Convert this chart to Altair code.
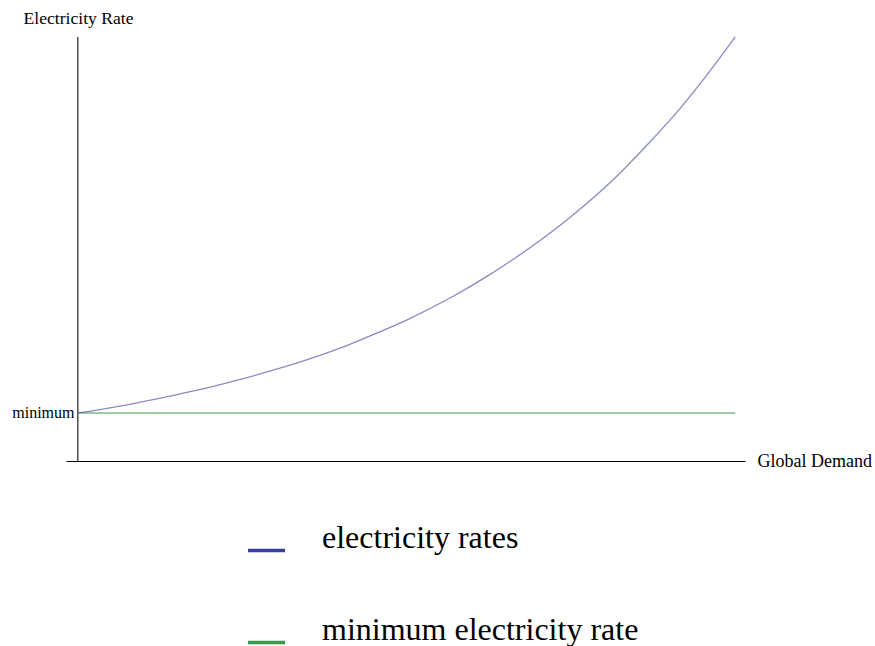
import altair as alt
import pandas as pd

# Values (x: global demand, y: electricity rate; minimum = 1)
demand = [0.0, 0.38, 0.90, 1.40, 1.90, 2.47, 2.97, 3.49, 3.99, 4.49, 5.01,
          5.71, 6.23, 6.73, 7.44, 8.14, 8.66, 9.16, 9.67, 10.0]
rate = [1.0, 1.08, 1.21, 1.35, 1.50, 1.70, 1.89, 2.11, 2.35, 2.63, 2.94,
        3.43, 3.85, 4.30, 5.02, 5.85, 6.58, 7.34, 8.22, 8.83]
min_demand = [0.0, 10.0]
min_rate = [1.0, 1.0]
series_names = ["electricity rates", "minimum electricity rate"]
series_colors = ["#3c3ca0", "#3a9a4a"]
y_axis_top = [0.0, 8.83]

curve = pd.DataFrame({"demand": demand, "rate": rate, "series": series_names[0]})
minimum = pd.DataFrame({"demand": min_demand, "rate": min_rate, "series": series_names[1]})
yaxis_df = pd.DataFrame({"demand": [0.0, 0.0], "rate": y_axis_top})

FONT = "Liberation Serif"

xscale = alt.Scale(domain=[-0.18, 10.15], nice=False, zero=False)
yscale = alt.Scale(domain=[0, 8.83], nice=False, zero=False)
color = alt.Color(
    "series:N",
    scale=alt.Scale(domain=series_names, range=series_colors),
    legend=alt.Legend(
        title=None,
        orient="none",
        legendX=180,
        legendY=480,
        direction="vertical",
        symbolType="M-1,0.7L1,0.7",
        symbolSize=1369,
        symbolStrokeWidth=3.5,
        symbolOpacity=1,
        labelFont=FONT,
        labelFontSize=32,
        labelColor="#000000",
        labelOffset=35,
        rowPadding=51,
        padding=0,
        labelLimit=500,
    ),
)

xaxis = alt.Axis(
    labels=False, ticks=False, grid=False, domainColor="#000000", domainWidth=1.2,
    title="Global Demand", titleFont=FONT, titleFontSize=18, titleFontWeight="normal",
    titleColor="#000000", titleX=691, titleY=0, titleAlign="left", titleBaseline="middle",
    titleAnchor="start",
)
yaxis = alt.Axis(
    values=[1], labelExpr="'minimum'", ticks=False, grid=False, domain=False,
    labelFont=FONT, labelFontSize=16, labelColor="#000000", labelPadding=4,
    title="Electricity Rate", titleFont=FONT, titleFontSize=17.6, titleFontWeight="normal",
    titleColor="#000000", titleAngle=0, titleAlign="center", titleBaseline="middle",
    titleX=0, titleY=-19, offset=-12,
)

base_x = alt.X("demand:Q", scale=xscale, axis=xaxis)
base_y = alt.Y("rate:Q", scale=yscale, axis=yaxis)

yline = alt.Chart(yaxis_df).mark_line(color="#222222", strokeWidth=1.2).encode(
    x=alt.X("demand:Q", scale=xscale, axis=xaxis),
    y=alt.Y("rate:Q", scale=yscale, axis=yaxis),
)

curve_layer = alt.Chart(curve).mark_line(
    strokeWidth=1.3, opacity=0.6, interpolate="monotone"
).encode(x=base_x, y=base_y, color=color)

min_layer = alt.Chart(minimum).mark_line(strokeWidth=1.2, opacity=1).encode(
    x=base_x, y=base_y, color=color
)

chart = (
    alt.layer(yline, min_layer, curve_layer)
    .properties(
        width=679,
        height=424,
        background="white",
        autosize=alt.AutoSizeParams(type="none"),
        padding={"left": 66, "top": 37, "right": 130, "bottom": 185},
    )
    .configure_view(strokeWidth=0, stroke=None)
)

chart.save("out.html", embed_options={"renderer": "svg", "actions": False})
